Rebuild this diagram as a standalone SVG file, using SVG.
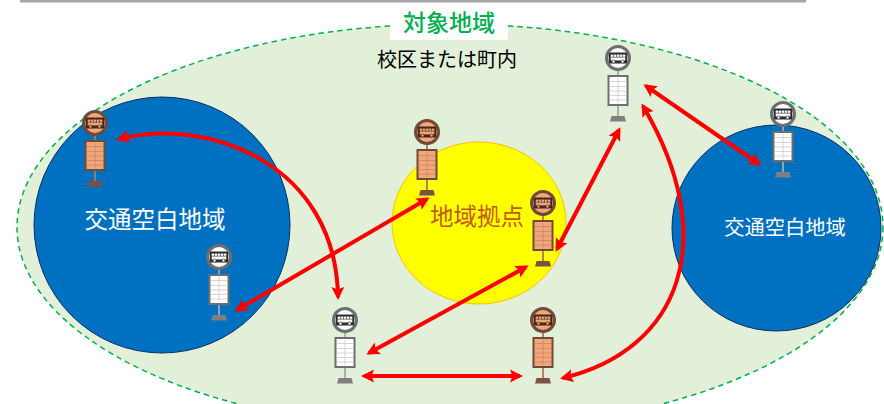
<svg xmlns="http://www.w3.org/2000/svg" width="884" height="404" viewBox="0 0 884 404">
<style>
text{font-family:"Noto Sans CJK JP","Noto Sans CJK SC",sans-serif;text-anchor:middle}
.arrow{fill:none;stroke:#FF0000;stroke-width:4;marker-start:url(#head);marker-end:url(#head)}
.gray{--ring:#6E6E6E;--face:#fff;--dark:#2E2E2E;--pole:#A6A6A6;--ln:#D0D0D0;--base:#7F7F7F}
.orange{--ring:#6E4A38;--face:#F4A67A;--dark:#43281A;--pole:#A87A60;--ln:#C98A66;--base:#7B5340}
.c1{fill:var(--face);stroke:var(--ring);stroke-width:3}
.c2{fill:var(--dark)}
.c3{fill:var(--face);stroke:var(--dark);stroke-width:.6}
.pole{stroke:var(--pole);stroke-width:1.800;fill:none}
.panel{fill:var(--face);stroke:var(--ring);stroke-width:2}
.ln{stroke:var(--ln);stroke-width:.9;fill:none}
.base{fill:var(--base)}
</style>
<defs>
<marker id="head" markerUnits="userSpaceOnUse" markerWidth="15" markerHeight="14" refX="10" refY="7" orient="auto-start-reverse">
<path d="M0 .5 L13 7 L0 13.5 L2.500 7 Z" fill="#FF0000"/>
</marker>
<g id="stop">
<line class="pole" x1="0" y1="12" x2="0" y2="59"/>
<circle class="c1" r="11.500"/>
<rect class="c2" x="-9.300" y="-5.500" width="18.600" height="11" rx="1.500"/>
<rect class="c3" x="-7.600" y="-3.800" width="15.200" height="6.600" rx="1"/>
<path class="c3" d="M-7.600 -.8H7.600M-4.500 -3.800V-.8M-1.500 -3.800V-.8M1.500 -3.800V-.8M4.500 -3.800V-.8"/>
<circle class="c3" cx="-4.500" cy="3.400" r="1.500"/>
<circle class="c3" cx="4.500" cy="3.400" r="1.500"/>
<rect class="panel" x="-9.500" y="18" width="19" height="29"/>
<path class="ln" d="M0 20V45M-8 23.500H8M-8 28.500H8M-8 33H8M-8 37.500H8M-8 42H8"/>
<path class="base" d="M-6.500 58H6.500L8 63.500H-8Z"/>
</g>
</defs>
<rect x="20" y="0" width="786" height="2.500" fill="#A6A6A6"/>
<g id="area">
<ellipse cx="450" cy="227" rx="433" ry="203" fill="#E2EFD9" stroke="#00B050" stroke-width="1.500" stroke-dasharray="5.500 4"/>
<rect x="390" y="5" width="118" height="35" fill="#fff"/>
<text x="449" y="31" font-size="23" font-weight="500" fill="#00B050">対象地域</text>
<text x="447" y="67" font-size="20" fill="#000">校区または町内</text>
</g>
<g id="blank-left">
<circle cx="162" cy="225" r="128" fill="#0070C0" stroke="#0B2F66" stroke-width="1"/>
<text x="155" y="228" font-size="23.500" fill="#fff">交通空白地域</text>
</g>
<g id="blank-right">
<ellipse cx="776.500" cy="228" rx="104.500" ry="103" fill="#0070C0" stroke="#0B2F66" stroke-width="1"/>
<text x="785" y="235" font-size="20.300" fill="#fff">交通空白地域</text>
</g>
<g id="hub">
<ellipse cx="479" cy="223" rx="87" ry="81" fill="#FFFF00" stroke="#FFC000" stroke-width="1"/>
<text x="477" y="225" font-size="23.500" fill="#C55A11">地域拠点</text>
</g>
<g id="stop-1" class="orange"><use href="#stop" x="95" y="123"/></g>
<g id="stop-2" class="gray"><use href="#stop" x="219" y="257"/></g>
<g id="stop-3" class="orange"><use href="#stop" x="427" y="132"/></g>
<g id="stop-4" class="orange"><use href="#stop" x="543" y="203"/></g>
<g id="stop-5" class="gray"><use href="#stop" x="345" y="320"/></g>
<g id="stop-6" class="orange"><use href="#stop" x="543" y="320"/></g>
<g id="stop-7" class="gray"><use href="#stop" x="618" y="58"/></g>
<g id="stop-8" class="gray"><use href="#stop" x="783" y="114"/></g>
<g id="connectors">
<path class="arrow" d="M119 139 C210 116 336 165 338 297"/>
<path class="arrow" d="M237 310 L427 199"/>
<path class="arrow" d="M369 353 L526 267"/>
<path class="arrow" d="M364 376 L520 376"/>
<path class="arrow" d="M557 249 L619 130"/>
<path class="arrow" d="M646 86 L759 164"/>
<path class="arrow" d="M563 378 C680 350 722 240 643 106"/>
</g>
</svg>
